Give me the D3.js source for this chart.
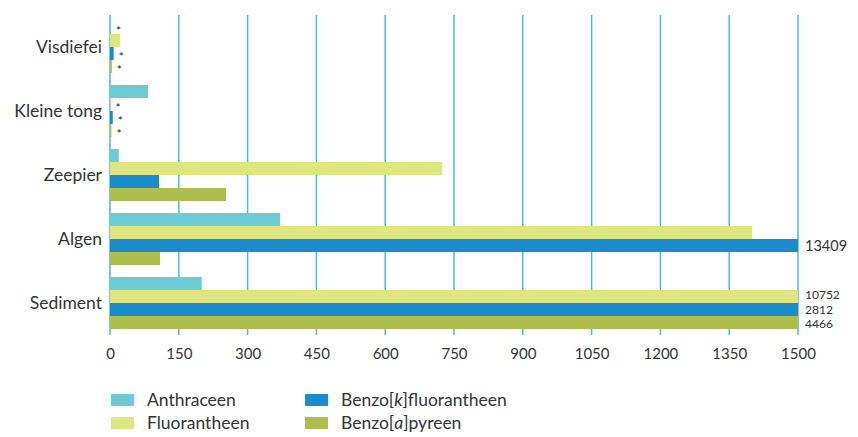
<!DOCTYPE html>
<html><head><meta charset="utf-8">
<script src="https://cdn.jsdelivr.net/npm/d3@7"></script>
<style>body{margin:0;background:#fff}svg{display:block}text{font-family:Lato,"Open Sans",sans-serif;fill:#333}</style>
</head><body><svg id="c" width="858" height="437"></svg>
<script>
const categories = ["Visdiefei","Kleine tong","Zeepier","Algen","Sediment"];
const seriesNames = ["Anthraceen","Fluorantheen","Benzo[k]fluorantheen","Benzo[a]pyreen"];
const anthraceen = [2, 83, 19, 371, 200];
const fluorantheen = [22, 1, 724, 1400, 10752];
const benzoK = [8, 6, 107, 13409, 2812];
const benzoA = [4, 3, 253, 109, 4466];
const starred = [[true,false,true,true],[false,true,true,true],[false,false,false,false],[false,false,false,false],[false,false,false,false]];
const ticks = [0,150,300,450,600,750,900,1050,1200,1350,1500];
const colors = ["#6ccbd4","#dde680","#1a8ccb","#adbe4e"];
const series = [anthraceen, fluorantheen, benzoK, benzoA];
const xMax = 1500;

const svg = d3.select("#c");
const x = d3.scaleLinear().domain([0, xMax]).range([110, 798]);
const y = d3.scaleBand().domain(categories).range([15, 335]).paddingInner(0.1875).paddingOuter(0.09375);
const y1 = d3.scaleBand().domain(d3.range(4)).range([0, y.bandwidth()]);

// grid
svg.append("g").selectAll("line").data(ticks).join("line")
  .attr("x1", d => x(d)).attr("x2", d => x(d)).attr("y1", 15).attr("y2", 335)
  .attr("stroke", "#45c0cd").attr("stroke-width", 1.5);

// bars
const g = svg.append("g");
categories.forEach((c, ci) => {
  const clipped = series.map((s, si) => si).filter(si => series[si][ci] > xMax);
  series.forEach((s, si) => {
    const v = s[ci];
    const cy = y(c) + y1(si) + y1.bandwidth()/2;
    g.append("rect").attr("x", x(0)).attr("y", y(c) + y1(si))
      .attr("width", x(Math.min(v, xMax)) - x(0)).attr("height", y1.bandwidth())
      .attr("fill", colors[si]);
    if (v > xMax) {
      const k = clipped.indexOf(si);
      const multi = clipped.length > 1;
      const off = multi ? (k - (clipped.length - 1) / 2) * 1.6 : 0;
      svg.append("text").attr("x", x(xMax) + 7).attr("y", cy + off)
        .attr("dy", "0.35em").attr("font-size", multi ? 12 : 14.5).text(v);
    }
    if (starred[ci][si]) {
      svg.append("text").attr("x", x(v) + 5).attr("y", cy + 7)
        .attr("font-size", 12).attr("font-family", "DejaVu Sans").style("fill", "#222").text("*");
    }
  });
});

// category labels
svg.append("g").selectAll("text").data(categories).join("text")
  .attr("x", 102).attr("y", d => y(d) + y.bandwidth()/2).attr("dy", "0.35em")
  .attr("text-anchor", "end").attr("font-size", 17.5).text(d => d);

// x axis tick labels
const ax = svg.append("g").attr("transform", "translate(0,335)")
  .call(d3.axisBottom(x).tickValues(ticks).tickSize(0).tickPadding(13).tickFormat(d3.format("d")));
ax.select(".domain").remove();
ax.selectAll("text").attr("font-size", 15).attr("font-family", "Lato,sans-serif").attr("fill", "#333");

// legend
const leg = svg.append("g");
const legPos = [[111,400],[111,423],[305,400],[305,423]];
seriesNames.forEach((name, i) => {
  const [lx, ly] = legPos[i];
  leg.append("rect").attr("x", lx).attr("y", ly - 6).attr("width", 23).attr("height", 12).attr("fill", colors[i]);
  const t = leg.append("text").attr("x", lx + 36).attr("y", ly).attr("dy", "0.35em").attr("font-size", 17.5);
  const m = name.match(/^(.*)\[(.)\](.*)$/);
  if (m) {
    t.append("tspan").text(m[1] + "[");
    t.append("tspan").attr("font-style", "italic").text(m[2]);
    t.append("tspan").text("]" + m[3]);
  } else t.text(name);
});
</script></body></html>
